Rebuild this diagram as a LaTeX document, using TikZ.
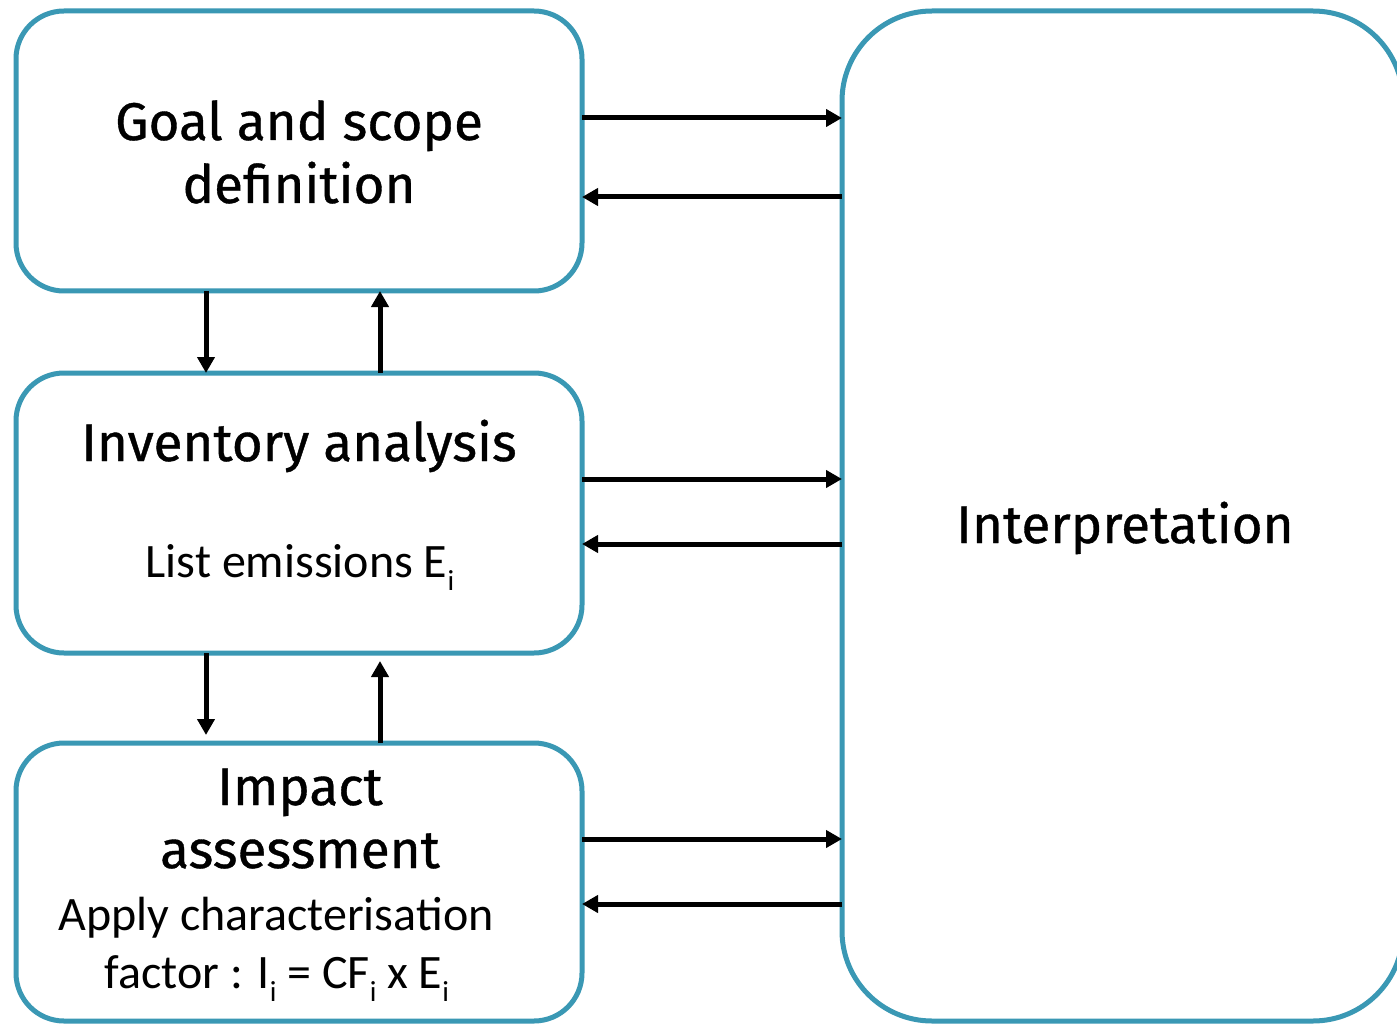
\documentclass[tikz,border=0pt]{standalone}
\usepackage{fontspec}
\usetikzlibrary{arrows.meta,calc}
\newfontfamily\headfont[FakeBold=0.7]{Fira Sans}
\newfontfamily\bodyfont{Carlito}
\definecolor{boxcol}{RGB}{58,152,180}
\newcommand{\sbi}{\raisebox{-0.28em}{\fontsize{29}{29}\selectfont i}}
\begin{document}
\begin{tikzpicture}[x=1pt,y=-1pt,
  box/.style={draw=boxcol,line width=5pt,rounded corners=48pt,inner sep=0pt,outer sep=0pt,fill=white},
  arr/.style={draw=black,line width=5pt,-{Triangle[length=16pt,width=17pt]}},
  head/.style={font=\headfont\fontsize{53}{53}\selectfont,anchor=base,inner sep=0pt},
  body/.style={font=\bodyfont\fontsize{48}{48}\selectfont,anchor=base,inner sep=0pt}]
\useasboundingbox (0,0) rectangle (1397,1024);
\clip (0,0) rectangle (1397,1024);
\fill[white] (0,0) rectangle (1397,1024);
% boxes
\node[box,minimum width=566pt,minimum height=280pt] (gs) at (299,151) {};
\node[box,minimum width=566pt,minimum height=280pt] (ia) at (299,513) {};
\node[box,minimum width=566pt,minimum height=278pt] (ic) at (299,882) {};
\node[box,rounded corners=90pt,minimum width=561pt,minimum height=1010pt] (ip) at (1122.5,516) {};
% texts
\node[head] (t1) at (299,140) {Goal and scope};
\node[head] (t2) at (299,203) {definition};
\node[head] (t3) at (299,461) {Inventory analysis};
\node[body] (t4) at (300,577) {List emissions E\sbi};
\node[head] (t5) at (300,805) {Impact};
\node[head] (t6) at (300,868) {assessment};
\node[body] (t7) at (276,930) {Apply characterisation};
\node[body] (t8) at (277,988) {factor : I\sbi{} = CF\sbi{} x E\sbi};
\node[head] (t9) at (1125,543) {Interpretation};
% helper coordinates
\coordinate (h1) at (0,118);
\coordinate (h2) at (0,197);
\coordinate (h3) at (0,479);
\coordinate (h4) at (0,544);
\coordinate (h5) at (0,839);
\coordinate (h6) at (0,904);
\coordinate (v1) at (206,0);
\coordinate (v2) at (380,0);
% horizontal arrows
\draw[arr] (gs.east |- h1) -- (ip.west |- h1);
\draw[arr] (ip.west |- h2) -- (gs.east |- h2);
\draw[arr] (ia.east |- h3) -- (ip.west |- h3);
\draw[arr] (ip.west |- h4) -- (ia.east |- h4);
\draw[arr] (ic.east |- h5) -- (ip.west |- h5);
\draw[arr] (ip.west |- h6) -- (ic.east |- h6);
% vertical arrows
\draw[arr] (v1 |- gs.south) -- (v1 |- ia.north);
\draw[arr] (v2 |- ia.north) -- (v2 |- gs.south);
\draw[arr,shorten >=8pt] (v1 |- ia.south) -- (v1 |- ic.north);
\draw[arr,shorten >=8pt] (v2 |- ic.north) -- (v2 |- ia.south);
\end{tikzpicture}
\end{document}
